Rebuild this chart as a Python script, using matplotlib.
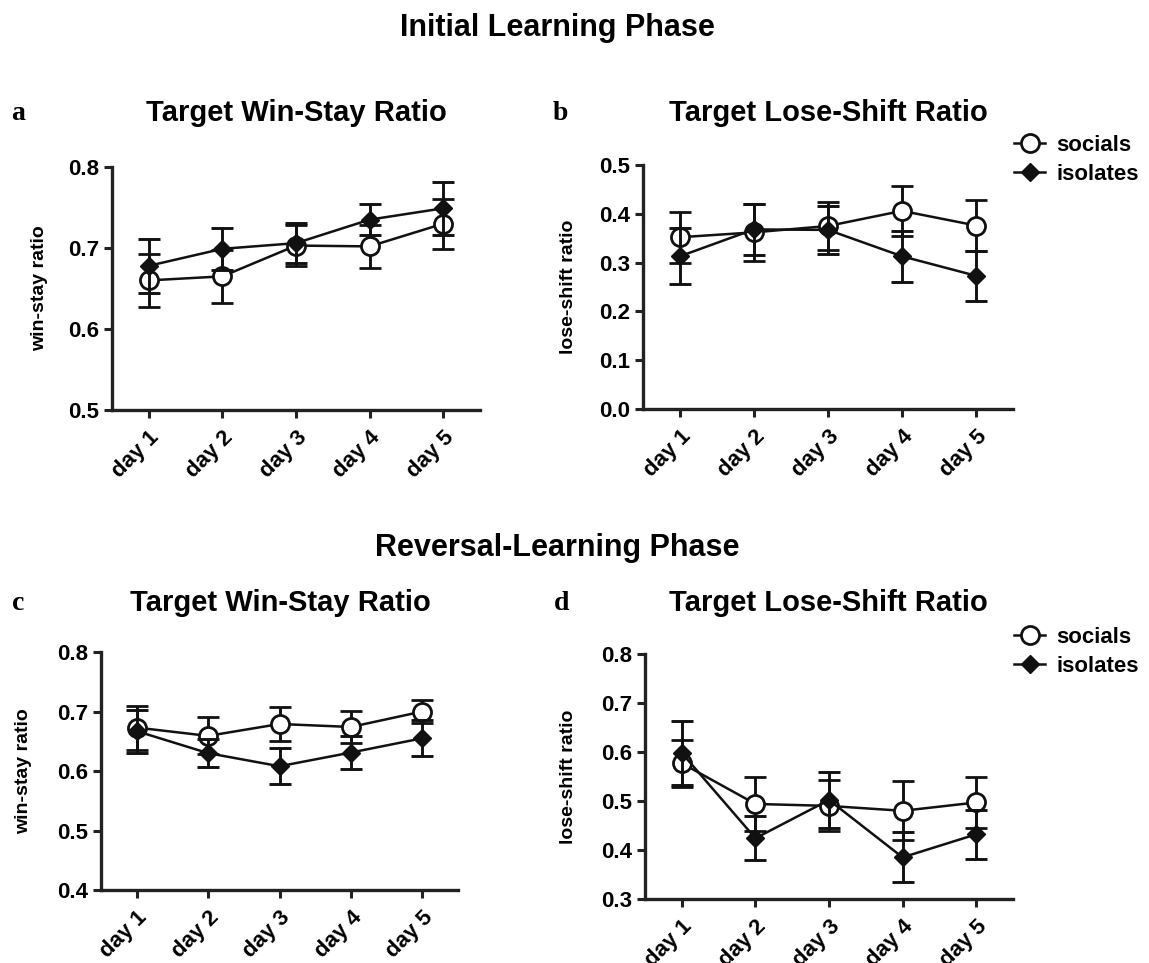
import matplotlib
matplotlib.use('Agg')
import matplotlib.pyplot as plt
from matplotlib.ticker import FormatStrFormatter
from matplotlib.lines import Line2D
from matplotlib.transforms import ScaledTranslation

plt.rcParams['font.family'] = ['Liberation Sans', 'DejaVu Sans']
plt.rcParams['font.weight'] = 'bold'

days = ['day 1', 'day 2', 'day 3', 'day 4', 'day 5']
x = [1, 2, 3, 4, 5]

# a - initial win-stay
a_soc = [0.660, 0.665, 0.703, 0.702, 0.730]
a_soc_err = [0.033, 0.033, 0.025, 0.027, 0.031]
a_iso = [0.678, 0.699, 0.706, 0.735, 0.749]
a_iso_err = [0.033, 0.026, 0.025, 0.019, 0.033]

# b - initial lose-shift
b_soc = [0.352, 0.362, 0.375, 0.406, 0.376]
b_soc_err = [0.052, 0.058, 0.050, 0.051, 0.053]
b_iso = [0.313, 0.368, 0.367, 0.313, 0.273]
b_iso_err = [0.057, 0.052, 0.050, 0.052, 0.051]

# c - reversal win-stay
c_soc = [0.673, 0.659, 0.679, 0.674, 0.700]
c_soc_err = [0.037, 0.031, 0.029, 0.027, 0.020]
c_iso = [0.667, 0.630, 0.608, 0.631, 0.655]
c_iso_err = [0.036, 0.023, 0.030, 0.028, 0.030]

# d - reversal lose-shift
d_soc = [0.577, 0.494, 0.490, 0.480, 0.497]
d_soc_err = [0.048, 0.056, 0.052, 0.060, 0.052]
d_iso = [0.598, 0.424, 0.502, 0.385, 0.432]
d_iso_err = [0.066, 0.045, 0.058, 0.051, 0.050]

W, H = 1149, 963
fig = plt.figure(figsize=(W / 100, H / 100), dpi=100)

def box(l, t, r, b):
    return [l / W, 1 - b / H, (r - l) / W, (b - t) / H]

panels = [
    (box(112, 167, 480, 410), a_soc, a_soc_err, a_iso, a_iso_err, (0.5, 0.8), [0.5, 0.6, 0.7, 0.8], 'win-stay ratio', -0.174),
    (box(643, 165, 1013, 409), b_soc, b_soc_err, b_iso, b_iso_err, (0.0, 0.5), [0.0, 0.1, 0.2, 0.3, 0.4, 0.5], 'lose-shift ratio', -0.178),
    (box(101, 652, 458, 890), c_soc, c_soc_err, c_iso, c_iso_err, (0.4, 0.8), [0.4, 0.5, 0.6, 0.7, 0.8], 'win-stay ratio', -0.193),
    (box(645, 654, 1013, 899), d_soc, d_soc_err, d_iso, d_iso_err, (0.3, 0.8), [0.3, 0.4, 0.5, 0.6, 0.7, 0.8], 'lose-shift ratio', -0.185),
]

shift = ScaledTranslation(-0.06, -0.03, fig.dpi_scale_trans)

for pos, soc, soc_err, iso, iso_err, ylim, yt, ylab, labx in panels:
    ax = fig.add_axes(pos)
    ax.errorbar(x, soc, yerr=soc_err, color='#111111', lw=1.8, elinewidth=2.1,
                capsize=8, capthick=2.1, marker='o', ms=13, mfc='white',
                mec='#111111', mew=2.0, zorder=3)
    ax.errorbar(x, iso, yerr=iso_err, color='#111111', lw=1.8, elinewidth=2.1,
                capsize=8, capthick=2.1, marker='D', ms=9, mfc='#111111',
                mec='#111111', zorder=4)
    ax.set_xlim(0.5, 5.5)
    ax.set_ylim(*ylim)
    ax.set_yticks(yt)
    ax.yaxis.set_major_formatter(FormatStrFormatter('%.1f'))
    ax.set_xticks(x)
    ax.set_xticklabels(days, rotation=45, ha='right', rotation_mode='anchor')
    for lbl in ax.get_xticklabels():
        lbl.set_transform(lbl.get_transform() + shift)
    ax.tick_params(labelsize=16, width=2.2, length=6, color='#222222')
    ax.tick_params(axis='x', pad=6)
    for s in ['top', 'right']:
        ax.spines[s].set_visible(False)
    for s in ['left', 'bottom']:
        ax.spines[s].set_linewidth(2.4)
        ax.spines[s].set_color('#222222')
    ax.set_ylabel(ylab, fontsize=14, fontweight='bold')
    ax.yaxis.set_label_coords(labx, 0.5)
    for art in ax.get_children():
        try:
            art.set_clip_on(False)
        except Exception:
            pass

def fx(px):
    return px / W

def fy(py):
    return 1 - py / H

fig.text(fx(557), fy(28), 'Initial Learning Phase', ha='center', va='center', fontsize=22, fontweight='bold')
fig.text(fx(557), fy(548), 'Reversal-Learning Phase', ha='center', va='center', fontsize=22, fontweight='bold')

fig.text(fx(296), fy(113), 'Target Win-Stay Ratio', ha='center', va='center', fontsize=21, fontweight='bold')
fig.text(fx(828), fy(113), 'Target Lose-Shift Ratio', ha='center', va='center', fontsize=21, fontweight='bold')
fig.text(fx(280), fy(603), 'Target Win-Stay Ratio', ha='center', va='center', fontsize=21, fontweight='bold')
fig.text(fx(828), fy(603), 'Target Lose-Shift Ratio', ha='center', va='center', fontsize=21, fontweight='bold')

for lab, px, py in [('a', 18, 113), ('b', 560, 113), ('c', 18, 603), ('d', 562, 603)]:
    fig.text(fx(px), fy(py), lab, ha='center', va='center', fontsize=20,
             fontweight='bold', family='Liberation Serif')

handles = [
    Line2D([], [], color='#111111', lw=1.8, marker='o', ms=13, mfc='white', mec='#111111', mew=2.0),
    Line2D([], [], color='#111111', lw=1.8, marker='D', ms=9, mfc='#111111', mec='#111111'),
]
for cy in [160, 652]:
    fig.legend(handles, ['socials', 'isolates'], loc='center left',
               bbox_to_anchor=(fx(1014), fy(cy)), frameon=False,
               prop={'size': 16, 'weight': 'bold'}, handlelength=1.4,
               handletextpad=0.5, labelspacing=0.35, borderpad=0, borderaxespad=0)

fig.savefig('out.png', dpi=100)
